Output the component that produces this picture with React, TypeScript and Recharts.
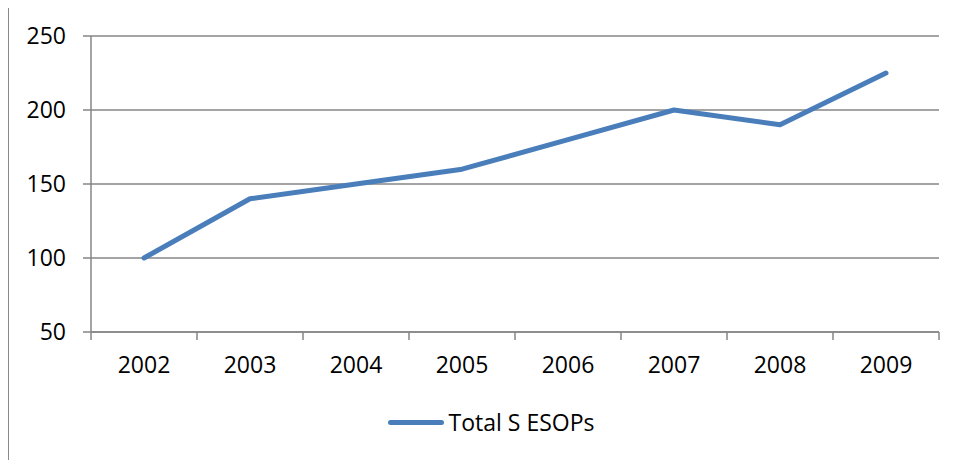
import React from 'react';
import { LineChart, Line, XAxis, YAxis, CartesianGrid, Legend } from 'recharts';

const years = ['2002', '2003', '2004', '2005', '2006', '2007', '2008', '2009'];
const totalSEsops = [100, 140, 150, 160, 180, 200, 190, 225];
const yTicks = [50, 100, 150, 200, 250];

const data = years.map((year, i) => ({ year, value: totalSEsops[i] }));

const LINE_COLOR = '#4A7EBB';
const GRID = '#868686';
const FONT = '"Open Sans", "Noto Sans", sans-serif';
const PLOT_W = 848;
const STEP = PLOT_W / years.length;

const YearTick = (props: any) => {
  const { x, y, payload, index } = props;
  const axisY = y - 8;
  return (
    <g>
      <line x1={x - STEP / 2} x2={x - STEP / 2} y1={axisY} y2={axisY + 8} stroke={GRID} strokeWidth={1.5} />
      {index === years.length - 1 && (
        <line x1={x + STEP / 2} x2={x + STEP / 2} y1={axisY} y2={axisY + 8} stroke={GRID} strokeWidth={1.5} />
      )}
      <text x={x} y={axisY + 25} dy="0.71em" textAnchor="middle" fill="#000" fontSize={23} fontFamily={FONT}>
        {payload.value}
      </text>
    </g>
  );
};

const LegendContent = () => (
  <div style={{ display: 'flex', justifyContent: 'center', alignItems: 'center', height: 40, paddingLeft: 34 }}>
    <div style={{ width: 56, height: 5, borderRadius: 3, background: LINE_COLOR, marginRight: 5 }} />
    <span style={{ fontFamily: FONT, fontSize: 23, color: '#000' }}>Total S ESOPs</span>
  </div>
);

export default function App() {
  return (
    <div style={{ marginTop: -2, width: 960, height: 470, border: '1.5px solid #8a8a8a', boxSizing: 'border-box', overflow: 'hidden', background: '#fff' }}>
      <LineChart width={951} height={460} data={data} margin={{ top: 29, right: 21, bottom: 25, left: 0 }}>
        <CartesianGrid vertical={false} stroke={GRID} strokeWidth={1.5} />
        <XAxis
          dataKey="year"
          padding={{ left: STEP / 2, right: STEP / 2 }}
          axisLine={{ stroke: GRID, strokeWidth: 1.5 }}
          tickLine={false}
          tickSize={8}
          tickMargin={0}
          height={70}
          interval={0}
          tick={<YearTick />}
        />
        <YAxis
          domain={[50, 250]}
          ticks={yTicks}
          width={82}
          axisLine={{ stroke: GRID, strokeWidth: 1.5 }}
          tickLine={{ stroke: GRID, strokeWidth: 1.5 }}
          tickSize={8}
          tickMargin={17}
          tick={{ fill: '#000', fontSize: 23, fontFamily: FONT }}
        />
        <Legend verticalAlign="bottom" content={<LegendContent />} />
        <Line
          type="linear"
          dataKey="value"
          stroke={LINE_COLOR}
          strokeWidth={5}
          strokeLinecap="round"
          strokeLinejoin="round"
          dot={false}
          isAnimationActive={false}
        />
      </LineChart>
    </div>
  );
}
